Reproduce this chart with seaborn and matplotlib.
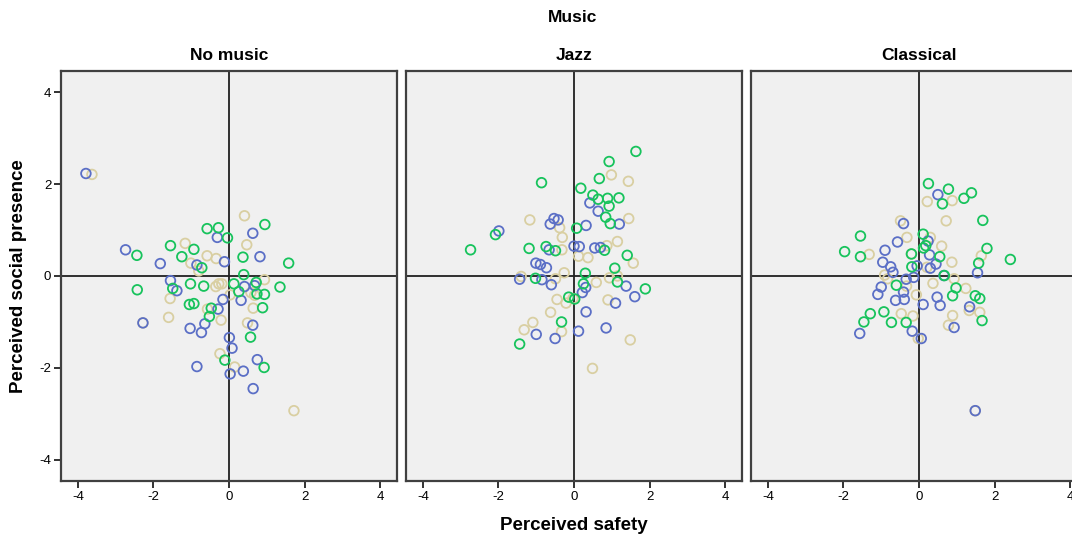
import pandas as pd
import matplotlib
matplotlib.use("Agg")
import matplotlib.pyplot as plt
import seaborn as sns

# Paneles y grupos
panels = ["No music", "Jazz", "Classical"]
groups = ["tan", "blue", "green"]
palette = {"blue": "#5b6fc6", "green": "#17c35c", "tan": "#d9cfa2"}
ticks = [-4, -2, 0, 2, 4]

# --- No music ---
nomusic_blue_x = [-3.79, -2.74, -1.82, -0.31, 0.63, -0.12, 0.82, -0.85, -1.55, -1.38, 0.41, 0.68,
                  -0.16, 0.32, -0.29, -0.64, -1.03, -0.73, 0.63, 0.01, 0.08, 0.75, -0.85, 0.38,
                  0.03, 0.64, -2.28]
nomusic_blue_y = [2.23, 0.57, 0.27, 0.84, 0.93, 0.31, 0.42, 0.24, -0.10, -0.32, -0.23, -0.21,
                  -0.51, -0.53, -0.72, -1.04, -1.14, -1.23, -1.07, -1.34, -1.57, -1.82, -1.97, -2.07,
                  -2.13, -2.45, -1.02]
nomusic_green_x = [-2.44, -2.43, -1.55, -1.25, -0.93, -0.58, -0.28, -0.04, 0.95, 0.37, 0.39, -0.72,
                   1.58, 1.35, -1.49, -1.02, -0.67, 0.13, 0.26, 0.72, 0.74, 0.94, -1.05, -0.93,
                   -0.47, -0.52, 0.89, 0.57, -0.11, 0.93]
nomusic_green_y = [0.45, -0.30, 0.66, 0.42, 0.58, 1.03, 1.05, 0.83, 1.12, 0.41, 0.03, 0.18,
                   0.28, -0.24, -0.27, -0.17, -0.22, -0.17, -0.34, -0.14, -0.39, -0.40, -0.62, -0.60,
                   -0.70, -0.88, -0.69, -1.33, -1.83, -1.99]
nomusic_tan_x = [-3.63, 0.41, 0.47, -1.16, -0.58, -0.34, -1.01, -0.80, -0.27, -0.35, -0.19, 0.94,
                 0.03, 0.58, 0.68, -1.56, -1.60, -0.57, -0.21, 0.64, 0.49, -0.24, 0.15, -2.28, 1.72]
nomusic_tan_y = [2.21, 1.31, 0.68, 0.71, 0.44, 0.38, 0.28, 0.11, -0.17, -0.23, -0.17, -0.08,
                 -0.41, -0.36, -0.42, -0.49, -0.90, -0.72, -0.96, -0.70, -1.02, -1.69, -1.98, -1.02, -2.93]

# --- Jazz ---
jazz_blue_x = [-1.99, -0.63, -0.53, -0.42, 0.42, 0.64, 0.32, 1.20, 0.00, 0.14, 0.55, 0.70,
               -0.66, -1.01, -0.89, -0.73, -1.44, -0.85, -0.60, 0.31, 0.22, 1.38, 1.61, 1.10,
               0.32, -1.00, -0.50, 0.12, 0.85]
jazz_blue_y = [0.98, 1.13, 1.25, 1.22, 1.59, 1.41, 1.10, 1.13, 0.65, 0.64, 0.61, 0.62,
               0.57, 0.28, 0.25, 0.18, -0.07, -0.08, -0.19, -0.25, -0.36, -0.22, -0.45, -0.59,
               -0.78, -1.27, -1.36, -1.20, -1.13]
jazz_green_x = [1.64, 0.93, -0.86, 0.67, 0.18, 0.50, 0.64, 0.89, 1.19, 0.93, 0.84, 0.96,
                0.07, -2.08, -2.74, -1.19, -0.74, -0.49, 0.81, 1.41, 1.08, 0.30, -1.02, 1.15,
                0.25, 1.89, -0.14, 0.02, -0.33, -1.44]
jazz_green_y = [2.71, 2.49, 2.03, 2.12, 1.91, 1.76, 1.67, 1.69, 1.70, 1.52, 1.28, 1.14,
                1.04, 0.90, 0.57, 0.60, 0.64, 0.55, 0.56, 0.45, 0.17, 0.06, -0.05, -0.13,
                -0.17, -0.28, -0.46, -0.50, -1.00, -1.48]
jazz_tan_x = [0.99, 1.44, -1.17, 1.45, -0.38, -0.31, 1.15, 0.87, -0.32, 0.12, 0.37, 1.57,
              -0.26, -0.49, 0.94, 1.15, 0.59, -1.40, -0.45, -0.21, -0.03, 0.90, -0.62, -1.09,
              -1.32, -0.33, 1.49, 0.49]
jazz_tan_y = [2.20, 2.06, 1.22, 1.25, 1.05, 0.84, 0.75, 0.66, 0.57, 0.43, 0.40, 0.28,
              0.07, -0.06, -0.04, 0.00, -0.14, -0.01, -0.51, -0.59, -0.49, -0.52, -0.79, -1.01,
              -1.17, -1.21, -1.39, -2.01]

# --- Classical ---
classical_blue_x = [0.50, -0.41, -0.57, -0.90, 0.24, 0.28, -0.96, -0.75, -0.69, -0.05, 0.45, 0.30,
                    -0.14, -0.34, 1.55, 0.66, -1.00, -1.09, -0.41, -0.62, -0.39, 0.48, 0.56, 0.11,
                    1.34, 0.93, -1.57, -0.18, 0.06, 1.49]
classical_blue_y = [1.77, 1.14, 0.74, 0.56, 0.76, 0.46, 0.30, 0.20, 0.08, 0.22, 0.26, 0.17,
                    -0.03, -0.07, 0.07, 0.01, -0.24, -0.40, -0.35, -0.53, -0.51, -0.46, -0.64, -0.62,
                    -0.67, -1.12, -1.25, -1.20, -1.36, -2.93]
classical_green_x = [0.25, 0.78, 1.39, 1.19, 0.62, 1.69, -1.55, 0.11, -1.97, -1.55, 0.18, 0.12,
                     0.55, 1.80, 2.42, 1.58, -0.19, 0.67, -0.60, 0.98, 0.89, 1.49, 1.61, -0.93,
                     -1.29, -1.46, -0.73, -0.34, 1.67, -0.20]
classical_green_y = [2.01, 1.89, 1.81, 1.69, 1.57, 1.21, 0.87, 0.91, 0.53, 0.42, 0.66, 0.61,
                     0.42, 0.60, 0.36, 0.28, 0.20, 0.01, -0.20, -0.26, -0.43, -0.43, -0.49, -0.78,
                     -0.82, -1.00, -1.01, -1.01, -0.97, 0.48]
classical_tan_x = [0.22, 0.88, 0.72, -0.49, -0.32, 0.30, 0.60, -1.32, 1.65, 0.87, 0.21, -0.91,
                   -0.83, 0.93, 0.37, -0.33, 1.24, -0.07, -0.47, -0.16, 0.89, 1.33, 1.61, 0.78,
                   -0.02, 1.49, -0.20]
classical_tan_y = [1.62, 1.64, 1.20, 1.20, 0.84, 0.84, 0.65, 0.47, 0.44, 0.30, 0.19, 0.02,
                   -0.06, -0.06, -0.16, -0.22, -0.27, -0.41, -0.82, -0.87, -0.86, -0.75, -0.79, -1.07,
                   -1.36, -2.93, 0.48]

series = {
    "No music": {"tan": (nomusic_tan_x, nomusic_tan_y), "blue": (nomusic_blue_x, nomusic_blue_y),
                 "green": (nomusic_green_x, nomusic_green_y)},
    "Jazz": {"tan": (jazz_tan_x, jazz_tan_y), "blue": (jazz_blue_x, jazz_blue_y),
             "green": (jazz_green_x, jazz_green_y)},
    "Classical": {"tan": (classical_tan_x, classical_tan_y), "blue": (classical_blue_x, classical_blue_y),
                  "green": (classical_green_x, classical_green_y)},
}

filas = []
for p in panels:
    for g in groups:
        xs, ys = series[p][g]
        for x, y in zip(xs, ys):
            filas.append({"panel": p, "group": g, "safety": x, "presence": y})
df = pd.DataFrame(filas)

sns.set_style("white")
plt.rcParams["font.family"] = ["Liberation Sans", "DejaVu Sans"]
plt.rcParams["axes.unicode_minus"] = False

W, H = 1072, 535
fig = plt.figure(figsize=(W / 100, H / 100), dpi=100)

# posiciones de los paneles en píxeles (izquierda, arriba, ancho, alto)
lefts = [61, 406, 751]
top, pw, ph = 71, 336, 410

for i, p in enumerate(panels):
    ax = fig.add_axes([lefts[i] / W, 1 - (top + ph) / H, pw / W, ph / H])
    ax.set_facecolor("#f0f0f0")
    sub = df[df["panel"] == p]
    sns.scatterplot(data=sub, x="safety", y="presence", hue="group", hue_order=groups,
                    palette=palette, s=48, linewidth=1.3, legend=False, ax=ax, zorder=3)
    coll = ax.collections[-1]
    fc = coll.get_facecolors()
    coll.set_edgecolors(fc)
    coll.set_facecolors("none")

    ax.axhline(0, color="#202020", lw=1.3, zorder=2)
    ax.axvline(0, color="#202020", lw=1.3, zorder=2)
    ax.set_xlim(-4.45, 4.45)
    ax.set_ylim(-4.46, 4.46)
    ax.set_xticks(ticks)
    ax.set_yticks(ticks)
    ax.set_xlabel("")
    ax.set_ylabel("")
    for sp in ax.spines.values():
        sp.set_color("#404040")
        sp.set_linewidth(1.6)
    ax.tick_params(direction="out", length=5, width=1.3, labelsize=9.5, pad=2,
                   colors="#222222", labelcolor="black", bottom=True, left=True)
    if i > 0:
        ax.tick_params(axis="y", left=False, labelleft=False)

    cx = (lefts[i] + pw / 2) / W
    fig.text(cx, 1 - 56 / H, p, ha="center", va="center", fontsize=12.5,
             fontweight="bold", color="black")

fig.text(573 / W, 1 - 18 / H, "Music", ha="center", va="center", fontsize=12.5,
         fontweight="bold", color="black")
fig.text(574 / W, 1 - 525 / H, "Perceived safety", ha="center", va="center",
         fontsize=13.5, fontweight="bold", color="black")
fig.text(19 / W, 1 - 276 / H, "Perceived social presence", ha="center", va="center",
         rotation=90, fontsize=13.5, fontweight="bold", color="black")

fig.savefig("out.png", dpi=100)
